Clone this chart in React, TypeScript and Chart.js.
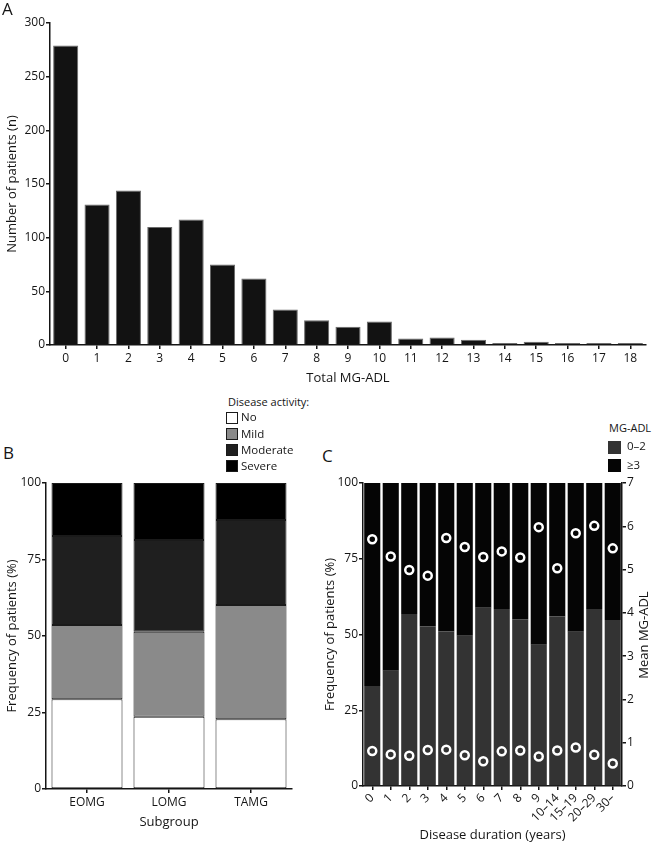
import React, { useEffect, useRef } from "react";
import { Chart, registerables } from "chart.js";

Chart.register(...registerables);

const FONT = "'Open Sans', sans-serif";
const INK = "#151515";

// ---------- Panel A ----------
const mgAdlScores = ["0", "1", "2", "3", "4", "5", "6", "7", "8", "9", "10", "11", "12", "13", "14", "15", "16", "17", "18"];
const patientCounts = [279, 131, 144, 110, 117, 75, 62, 33, 23, 17, 22, 6, 7, 5, 1, 3, 1, 1, 1];

// ---------- Panel B ----------
const subgroups = ["EOMG", "LOMG", "TAMG"];
const activityNo = [29.3, 23.6, 22.8];
const activityMild = [24.3, 27.8, 37.3];
const activityModerate = [29.1, 30.0, 27.8];
const activitySevere = [17.3, 18.6, 12.1];
const activityLabels = ["No", "Mild", "Moderate", "Severe"];
const activityColors = ["#ffffff", "#8a8a8a", "#1f1f1f", "#000000"];

// ---------- Panel C ----------
const durations = ["0", "1", "2", "3", "4", "5", "6", "7", "8", "9", "10–14", "15–19", "20–29", "30–"];
const share02 = [33.0, 38.0, 56.8, 52.6, 51.0, 49.6, 58.8, 58.4, 55.0, 46.6, 55.9, 50.9, 58.4, 54.8];
const share3plus = [67.0, 62.0, 43.2, 47.4, 49.0, 50.4, 41.2, 41.6, 45.0, 53.4, 44.1, 49.1, 41.6, 45.2];
const mean3plus = [5.70, 5.30, 4.99, 4.86, 5.73, 5.52, 5.29, 5.42, 5.28, 5.98, 5.03, 5.84, 6.01, 5.49];
const mean02 = [0.81, 0.73, 0.70, 0.83, 0.84, 0.71, 0.57, 0.80, 0.82, 0.68, 0.82, 0.89, 0.72, 0.52];
const mgLegendLabels = ["0–2", "≥3"];
const mgColors = ["#333333", "#050505"];

const tickFont = { family: FONT, size: 12 };
const titleFont = { family: FONT, size: 13 };

function axisStyle(tickLength: number) {
  return {
    grid: {
      display: true,
      drawOnChartArea: false,
      drawTicks: true,
      tickLength,
      color: INK,
      lineWidth: 1.5,
      offset: false,
    },
    border: { display: true, color: INK, width: 1.5 },
  };
}

function Txt(props: { x: number; base: number; size: number; children: any; style?: any }) {
  const { x, base, size, children, style } = props;
  return (
    <div
      style={{
        position: "absolute",
        left: x,
        top: base - 0.888 * size,
        fontSize: size,
        lineHeight: "1",
        whiteSpace: "nowrap",
        fontFamily: FONT,
        color: INK,
        ...style,
      }}
    >
      {children}
    </div>
  );
}

export default function App() {
  const aRef = useRef<HTMLCanvasElement | null>(null);
  const bRef = useRef<HTMLCanvasElement | null>(null);
  const cRef = useRef<HTMLCanvasElement | null>(null);

  useEffect(() => {
    const charts: Chart[] = [];

    // Panel A
    charts.push(
      new Chart(aRef.current as HTMLCanvasElement, {
        type: "bar",
        data: {
          labels: mgAdlScores,
          datasets: [
            {
              label: "Number of patients",
              data: patientCounts,
              backgroundColor: "#121212",
              borderColor: "#6a6a6a",
              borderWidth: 1,
              borderSkipped: "bottom",
              minBarLength: 2,
              barPercentage: 0.8,
              categoryPercentage: 1,
            },
          ],
        },
        options: {
          responsive: false,
          animation: false,
          layout: { padding: { top: 23, right: 8, left: 0, bottom: 0 } },
          plugins: { legend: { display: false }, tooltip: { enabled: false } },
          scales: {
            x: {
              ...axisStyle(4),
              ticks: { color: INK, font: tickFont, padding: 2, maxRotation: 0 },
              title: { display: true, text: "Total MG-ADL", color: INK, font: titleFont, padding: { top: 2, bottom: 4 } },
              afterFit: (s: any) => {
                s.height = 45;
              },
            },
            y: {
              ...axisStyle(4),
              min: 0,
              max: 300,
              ticks: { color: INK, font: tickFont, padding: 1, stepSize: 50 },
              title: { display: true, text: "Number of patients (n)", color: INK, font: titleFont, padding: { top: 4, bottom: 2 } },
              afterFit: (s: any) => {
                s.width = 50;
              },
            },
          },
        },
      } as any)
    );

    // Panel B
    const bSeries = [activityNo, activityMild, activityModerate, activitySevere];
    charts.push(
      new Chart(bRef.current as HTMLCanvasElement, {
        type: "bar",
        data: {
          labels: subgroups,
          datasets: bSeries.map((d, i) => ({
            label: activityLabels[i],
            data: d,
            backgroundColor: activityColors[i],
            borderColor: "#1a1a1a",
            borderWidth: 1,
            borderSkipped: false,
            barPercentage: 0.866,
            categoryPercentage: 1,
          })),
        },
        options: {
          responsive: false,
          animation: false,
          layout: { padding: { top: 13, right: 28, left: 0, bottom: 0 } },
          plugins: { legend: { display: false }, tooltip: { enabled: false } },
          scales: {
            x: {
              ...axisStyle(4),
              stacked: true,
              ticks: { color: INK, font: tickFont, padding: 2, maxRotation: 0 },
              title: { display: true, text: "Subgroup", color: INK, font: titleFont, padding: { top: 2, bottom: 4 } },
              afterFit: (s: any) => {
                s.height = 45;
              },
            },
            y: {
              ...axisStyle(4),
              stacked: true,
              min: 0,
              max: 100,
              ticks: { color: INK, font: tickFont, padding: 1, stepSize: 25 },
              title: { display: true, text: "Frequency of patients (%)", color: INK, font: titleFont, padding: { top: 4, bottom: 2 } },
              afterFit: (s: any) => {
                s.width = 46;
              },
            },
          },
        },
      } as any)
    );

    // Panel C
    const cShares = [share02, share3plus];
    const cMeans = [mean02, mean3plus];
    charts.push(
      new Chart(cRef.current as HTMLCanvasElement, {
        type: "bar",
        data: {
          labels: durations,
          datasets: [
            ...cShares.map((d, i) => ({
              type: "bar",
              label: mgLegendLabels[i],
              data: d,
              backgroundColor: mgColors[i],
              borderWidth: 0,
              barPercentage: 0.87,
              categoryPercentage: 1,
              yAxisID: "y",
              order: 2,
            })),
            ...cMeans.map((d, i) => ({
              type: "line",
              label: "Mean MG-ADL " + mgLegendLabels[i],
              data: d,
              showLine: false,
              pointRadius: 4,
              pointBorderWidth: 2.5,
              pointBorderColor: "#ffffff",
              pointBackgroundColor: "rgba(0,0,0,0)",
              yAxisID: "y1",
              order: 1,
            })),
          ],
        },
        options: {
          responsive: false,
          animation: false,
          layout: { padding: { top: 13, right: 0, left: 0, bottom: 0 } },
          plugins: { legend: { display: false }, tooltip: { enabled: false } },
          scales: {
            x: {
              ...axisStyle(4),
              stacked: true,
              ticks: { color: INK, font: tickFont, padding: 1, minRotation: 45, maxRotation: 45, autoSkip: false },
              title: { display: true, text: "Disease duration (years)", color: INK, font: titleFont, padding: { top: 2, bottom: 1 } },
              afterFit: (s: any) => {
                s.height = 58;
              },
            },
            y: {
              ...axisStyle(4),
              stacked: true,
              min: 0,
              max: 100,
              position: "left",
              ticks: { color: INK, font: tickFont, padding: 1, stepSize: 25 },
              title: { display: true, text: "Frequency of patients (%)", color: INK, font: titleFont, padding: { top: 2, bottom: 2 } },
              afterFit: (s: any) => {
                s.width = 43;
              },
            },
            y1: {
              ...axisStyle(4),
              min: 0,
              max: 7,
              position: "right",
              ticks: { color: INK, font: tickFont, padding: 1, stepSize: 1 },
              title: { display: false },
              afterFit: (s: any) => {
                s.width = 32;
              },
            },
          },
        },
      } as any)
    );

    return () => {
      charts.forEach((c) => c.destroy());
    };
  }, []);

  const legendBBase = [421.5, 438, 454, 470];
  const legendCBase = [450.5, 469];

  return (
    <div
      style={{
        position: "absolute",
        left: 0,
        top: 0,
        width: 654,
        height: 844,
        background: "#ffffff",
        overflow: "hidden",
        fontFamily: FONT,
      }}
    >
      <canvas ref={aRef} width={654} height={390} style={{ position: "absolute", left: 0, top: 0 }} />
      <canvas ref={bRef} width={320} height={364} style={{ position: "absolute", left: 0, top: 470 }} />
      <canvas ref={cRef} width={334} height={374} style={{ position: "absolute", left: 320, top: 470 }} />

      {/* panel letters */}
      <Txt x={2} base={15} size={17}>A</Txt>
      <Txt x={3} base={459} size={17}>B</Txt>
      <Txt x={322} base={462} size={17}>C</Txt>

      {/* legend B */}
      <Txt x={228} base={406} size={11}>Disease activity:</Txt>
      {activityLabels.map((lab, i) => (
        <React.Fragment key={lab}>
          <div
            style={{
              position: "absolute",
              left: 226,
              top: legendBBase[i] - 10,
              width: 10,
              height: 10,
              background: activityColors[i],
              border: "1px solid #1a1a1a",
            }}
          />
          <Txt x={241} base={legendBBase[i]} size={11.5}>{lab}</Txt>
        </React.Fragment>
      ))}

      {/* legend C */}
      <Txt x={609} base={432} size={11}>MG-ADL</Txt>
      {mgLegendLabels.map((lab, i) => (
        <React.Fragment key={lab}>
          <div
            style={{
              position: "absolute",
              left: 608,
              top: legendCBase[i] - 10,
              width: 13,
              height: 13,
              background: mgColors[i],
            }}
          />
          <Txt x={627} base={legendCBase[i]} size={11.5}>{lab}</Txt>
        </React.Fragment>
      ))}

      {/* right axis title of panel C */}
      <div
        style={{
          position: "absolute",
          left: 643,
          top: 635,
          fontSize: 13,
          lineHeight: "1",
          whiteSpace: "nowrap",
          color: INK,
          fontFamily: FONT,
          transform: "translate(-50%, -50%) rotate(-90deg)",
        }}
      >
        Mean MG-ADL
      </div>
    </div>
  );
}
